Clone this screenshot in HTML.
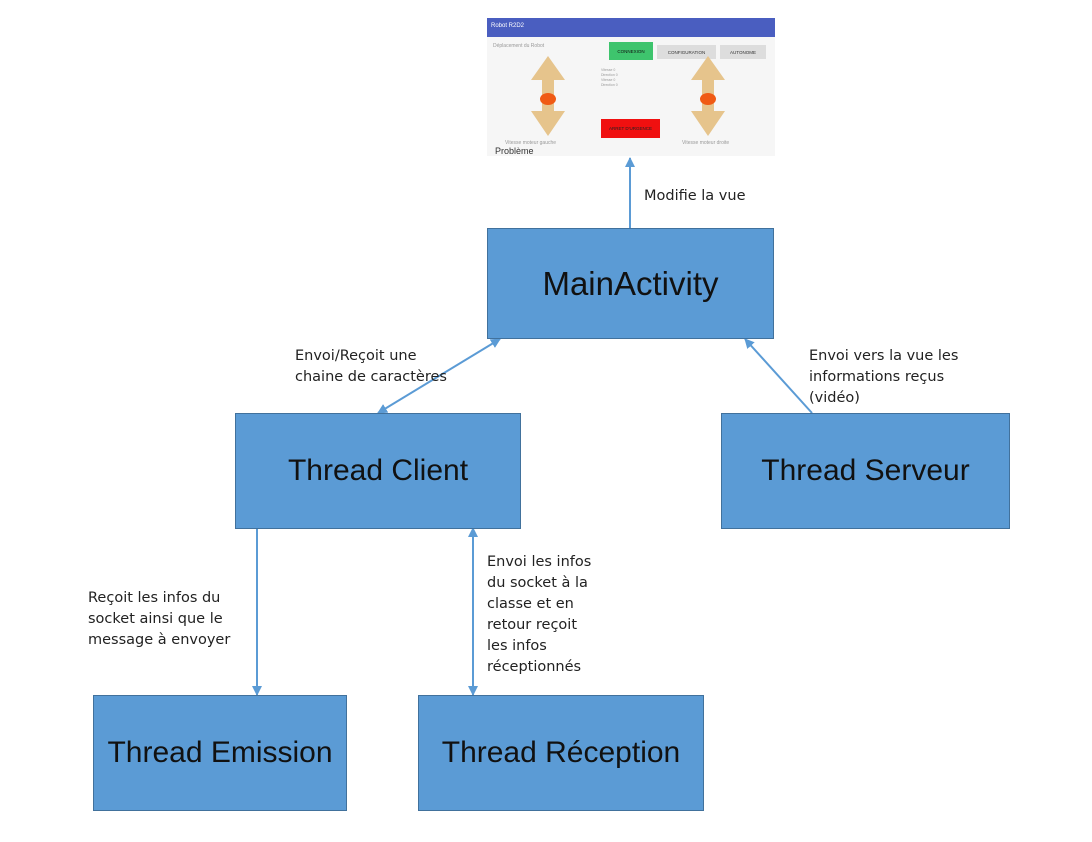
<!DOCTYPE html>
<html><head><meta charset="utf-8"><style>
body{margin:0;width:1092px;height:842px;background:#fff;position:relative;overflow:hidden;font-family:"Liberation Sans",sans-serif}
.b{position:absolute;background:#5b9bd5;border:1.5px solid #41719c;box-sizing:border-box;display:flex;align-items:center;justify-content:center;font-size:30px;color:#111}
.l{position:absolute;font-family:"DejaVu Sans",sans-serif;font-size:14.5px;line-height:21px;color:#222}
.s{position:absolute;left:487px;top:18px;width:288px;height:138px;background:#f6f6f6;overflow:hidden;font-size:5px;color:#999}
</style></head><body>
<div class="s">
<div style="height:19px;background:#4a5ec0;color:#fff;font-size:6px;padding:5px 4px;box-sizing:border-box">Robot R2D2</div>
<div style="position:absolute;left:6px;top:25px">Déplacement du Robot</div>
<div style="position:absolute;left:122px;top:24px;width:44px;height:18px;background:#3ec46d;color:#111;font-size:4.5px;display:flex;align-items:center;justify-content:center">CONNEXION</div>
<div style="position:absolute;left:170px;top:27px;width:59px;height:14px;background:#ddd;color:#333;font-size:4.5px;display:flex;align-items:center;justify-content:center">CONFIGURATION</div>
<div style="position:absolute;left:233px;top:27px;width:46px;height:14px;background:#ddd;color:#333;font-size:4.5px;display:flex;align-items:center;justify-content:center">AUTONOME</div>
<div style="position:absolute;left:114px;top:50px;font-size:3.5px;line-height:5px">Vitesse 0<br>Direction 0<br>Vitesse 0<br>Direction 0</div>
<svg style="position:absolute;left:0;top:0" width="288" height="138">
<polygon points="61,38 78,62 67,62 67,93 78,93 61,118 44,93 55,93 55,62 44,62" fill="#e6c48c"/>
<ellipse cx="61" cy="81" rx="8" ry="6" fill="#f05a14"/>
<polygon points="221,38 238,62 227,62 227,93 238,93 221,118 204,93 215,93 215,62 204,62" fill="#e6c48c"/>
<ellipse cx="221" cy="81" rx="8" ry="6" fill="#f05a14"/>
</svg>
<div style="position:absolute;left:114px;top:101px;width:59px;height:19px;background:#f01010;color:#222;font-size:4.5px;display:flex;align-items:center;justify-content:center">ARRET D'URGENCE</div>
<div style="position:absolute;left:18px;top:122px">Vitesse moteur gauche</div>
<div style="position:absolute;left:195px;top:122px">Vitesse moteur droite</div>
<div style="position:absolute;left:8px;top:128px;font-size:9px;color:#333">Problème</div>
</div>
<svg style="position:absolute;left:0;top:0" width="1092" height="842">
<defs><marker id="a" markerWidth="10" markerHeight="10" refX="9" refY="5" orient="auto-start-reverse" markerUnits="userSpaceOnUse"><path d="M0,0 L10,5 L0,10 z" fill="#5b9bd5"/></marker></defs>
<g stroke="#5b9bd5" stroke-width="2" fill="none">
<line x1="630" y1="228" x2="630" y2="158" marker-end="url(#a)"/>
<line x1="378" y1="413" x2="500" y2="339" marker-start="url(#a)" marker-end="url(#a)"/>
<line x1="812" y1="413" x2="745" y2="339" marker-end="url(#a)"/>
<line x1="257" y1="528" x2="257" y2="695" marker-end="url(#a)"/>
<line x1="473" y1="528" x2="473" y2="695" marker-start="url(#a)" marker-end="url(#a)"/>
</g></svg>
<div class="b" style="left:487px;top:228px;width:287px;height:111px;font-size:33px">MainActivity</div>
<div class="b" style="left:235px;top:413px;width:286px;height:116px">Thread Client</div>
<div class="b" style="left:721px;top:413px;width:289px;height:116px">Thread Serveur</div>
<div class="b" style="left:93px;top:695px;width:254px;height:116px">Thread Emission</div>
<div class="b" style="left:418px;top:695px;width:286px;height:116px">Thread Réception</div>
<div class="l" style="left:644px;top:186px">Modifie la vue</div>
<div class="l" style="left:295px;top:346px">Envoi/Reçoit une<br>chaine de caractères</div>
<div class="l" style="left:809px;top:346px">Envoi vers la vue les<br>informations reçus<br>(vidéo)</div>
<div class="l" style="left:88px;top:588px">Reçoit les infos du<br>socket ainsi que le<br>message à envoyer</div>
<div class="l" style="left:487px;top:552px">Envoi les infos<br>du socket à la<br>classe et en<br>retour reçoit<br>les infos<br>réceptionnés</div>
</body></html>
